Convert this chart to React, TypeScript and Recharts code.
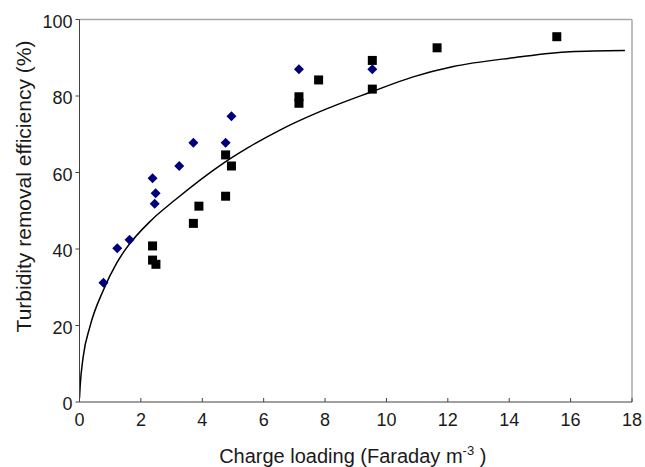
import React from "react";
import {
  ComposedChart,
  XAxis,
  YAxis,
  Scatter,
  Line,
  ReferenceLine,
} from "recharts";

const diamondX = [0.78, 1.23, 1.63, 2.38, 2.48, 2.45, 3.25, 3.71, 4.76, 4.95, 7.15, 9.54];
const diamondY = [31.2, 40.2, 42.4, 58.5, 54.6, 51.8, 61.7, 67.8, 67.8, 74.7, 87.0, 87.0];

const squareX = [2.38, 2.38, 2.49, 3.71, 3.89, 4.76, 4.95, 4.76, 7.15, 7.15, 7.79, 9.54, 9.54, 11.65, 15.55];
const squareY = [40.8, 37.1, 36.0, 46.7, 51.2, 64.6, 61.7, 53.8, 79.8, 78.1, 84.2, 89.3, 81.8, 92.6, 95.5];

const curveX = [0, 0.02, 0.12, 0.34, 0.78, 1.21, 1.48, 2.35, 3.11, 4.68, 5.45, 6.53, 7.83, 9.52, 10.87, 12.18, 14.13, 15.98, 17.77];
const curveY = [1, 4, 11.8, 19.7, 29.3, 36.3, 39.7, 47.6, 52.8, 62.4, 66.3, 71.1, 75.9, 81.1, 85.0, 87.7, 90.0, 91.6, 91.9];

const xTicks = [0, 2, 4, 6, 8, 10, 12, 14, 16, 18];
const yTicks = [0, 20, 40, 60, 80, 100];

const diamonds = diamondX.map((x, i) => ({ x, y: diamondY[i] }));
const squares = squareX.map((x, i) => ({ x, y: squareY[i] }));
const curve = curveX.map((x, i) => ({ x, y: curveY[i] }));

const FONT = "'Liberation Sans', Arial, sans-serif";

const DiamondShape = (props: any) => {
  const { cx, cy } = props;
  const r = 5;
  return (
    <polygon
      points={`${cx},${cy - r} ${cx + r},${cy} ${cx},${cy + r} ${cx - r},${cy}`}
      fill="#00007a"
    />
  );
};

const SquareShape = (props: any) => {
  const { cx, cy } = props;
  const s = 9;
  return <rect x={cx - s / 2} y={cy - s / 2} width={s} height={s} fill="#000" />;
};

const YLabel = (props: any) => {
  const { viewBox } = props;
  const x = viewBox.x - 6.5;
  const y = viewBox.y + 167;
  return (
    <text
      x={x}
      y={y}
      transform={`rotate(-90, ${x}, ${y})`}
      textAnchor="middle"
      dominantBaseline="central"
      fontFamily={FONT}
      fontSize={21}
      fill="#1a1a1a"
    >
      Turbidity removal efficiency (%)
    </text>
  );
};

const XLabel = (props: any) => {
  const { viewBox } = props;
  const x = viewBox.x + viewBox.width / 2 - 3;
  const y = viewBox.y + 61;
  return (
    <text x={x} y={y} textAnchor="middle" fontFamily={FONT} fontSize={20} fill="#1a1a1a">
      Charge loading (Faraday m
      <tspan dy={-8} fontSize={13}>-3</tspan>
      <tspan dy={8}> )</tspan>
    </text>
  );
};

export default function App() {
  return (
    <div style={{ position: "absolute", left: 0, top: 0, width: 645, height: 467 }}>
      <ComposedChart
        width={645}
        height={467}
        margin={{ top: 19.5, right: 13, bottom: 20, left: 29.5 }}
      >
        <XAxis
          type="number"
          dataKey="x"
          domain={[0, 18]}
          ticks={xTicks}
          allowDataOverflow
          stroke="#404040"
          tickSize={-4}
          tickMargin={15}
          height={45}
          tick={{ fontFamily: FONT, fontSize: 18, fill: "#1a1a1a" }}
          label={{ content: XLabel }}
        />
        <YAxis
          type="number"
          dataKey="y"
          domain={[0, 100]}
          ticks={yTicks}
          stroke="#404040"
          tickSize={4}
          tickMargin={3}
          width={50}
          tick={{ fontFamily: FONT, fontSize: 18, fill: "#1a1a1a", dy: 2 }}
          label={{ content: YLabel }}
        />
        <ReferenceLine y={100} stroke="#a8a8a8" strokeWidth={1.5} />
        <ReferenceLine x={18} stroke="#a8a8a8" strokeWidth={1.5} />
        <Line
          data={curve}
          dataKey="y"
          type="monotone"
          stroke="#000"
          strokeWidth={1.5}
          dot={false}
          activeDot={false}
          isAnimationActive={false}
        />
        <Scatter data={diamonds} dataKey="y" shape={DiamondShape} isAnimationActive={false} />
        <Scatter data={squares} dataKey="y" shape={SquareShape} isAnimationActive={false} />
      </ComposedChart>
    </div>
  );
}
